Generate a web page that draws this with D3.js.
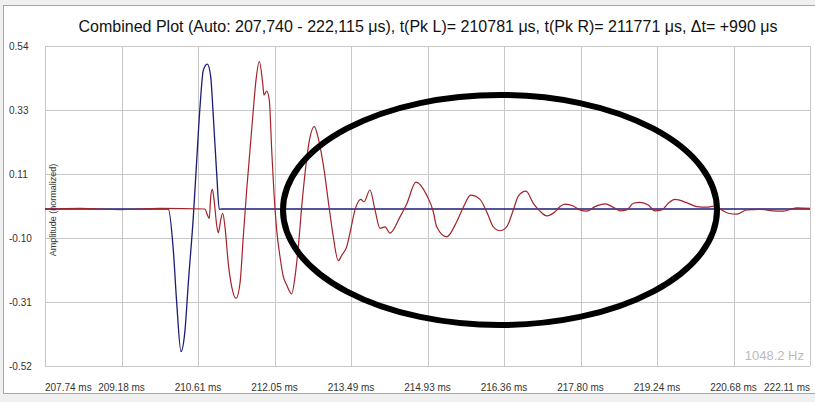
<!DOCTYPE html>
<meta charset="utf-8">
<style>
  body { margin: 0; background: #f0f0f0; }
  svg { display: block; font-family: "Liberation Sans", Arial, sans-serif; }
  .grid line { stroke: #c8c8c8; stroke-width: 1; shape-rendering: crispEdges; }
  .ylab, .xlab { font-size: 10px; fill: #333; }
</style>
<svg width="815" height="402"></svg>
<script src="https://cdnjs.cloudflare.com/ajax/libs/d3/7.8.5/d3.min.js"></script>
<script>

// time axis (ms) and labels
var tStart = 207.740, tEnd = 222.115;
var xTickLabels = ["207.74 ms", "209.18 ms", "210.61 ms", "212.05 ms", "213.49 ms", "214.93 ms",
                   "216.36 ms", "217.80 ms", "219.24 ms", "220.68 ms", "222.11 ms"];
var yMin = -0.52, yMax = 0.54;
var yTickLabels = ["0.54", "0.33", "0.11", "-0.10", "-0.31", "-0.52"];

// left channel (blue) - time ms / amplitude
var blueT = [207.740, 210.057, 210.151, 210.215, 210.296, 210.371, 210.433, 210.527, 210.591,
             210.653, 210.715, 210.790, 210.854, 210.903, 210.966, 211.015, 211.066, 222.115];
var blueA = [0, 0, -0.136, -0.311, -0.472, -0.401, -0.245, -0.026, 0.162,
             0.339, 0.460, 0.480, 0.438, 0.306, 0.118, -0.001, 0, 0];

// right channel (red)
var redT = [207.740, 208.398, 209.149, 209.901, 210.747, 210.779, 210.827, 210.854, 210.884, 210.921,
            210.966, 210.997, 211.042, 211.079, 211.122, 211.184, 211.248, 211.329, 211.404, 211.466,
            211.530, 211.592, 211.654, 211.705, 211.767, 211.831, 211.855, 211.906, 211.955, 212.000,
            212.043, 212.094, 212.156, 212.218, 212.282, 212.376, 212.438, 212.500, 212.564, 212.626,
            212.688, 212.800, 212.876, 212.970, 213.082, 213.152, 213.251, 213.321, 213.409, 213.490,
            213.565, 213.672, 213.734, 213.847, 213.941, 214.035, 214.129, 214.223, 214.411, 214.537,
            214.711, 214.912, 215.037, 215.100, 215.288, 215.476, 215.600, 215.739, 215.914, 216.040,
            216.164, 216.290, 216.416, 216.540, 216.634, 216.778, 216.916, 217.041, 217.167, 217.323,
            217.417, 217.511, 217.667, 217.793, 217.919, 218.075, 218.263, 218.419, 218.545, 218.671,
            218.795, 218.921, 219.077, 219.202, 219.328, 219.452, 219.578, 219.798, 219.986, 220.174,
            220.330, 220.456, 220.580, 220.738, 220.926, 221.175, 221.425, 221.613, 221.865, 222.115];
var redA = [0, 0.002, -0.002, 0.002, 0, -0.014, -0.031, 0.041, 0.065, 0.024,
            -0.053, -0.079, -0.036, -0.014, -0.059, -0.180, -0.257, -0.296, -0.246, -0.092,
            0.063, 0.195, 0.328, 0.427, 0.488, 0.416, 0.377, 0.391, 0.361, 0.195,
            0.052, -0.070, -0.158, -0.224, -0.252, -0.281, -0.224, -0.125, 0.008, 0.118,
            0.206, 0.273, 0.234, 0.146, 0.001, -0.086, -0.171, -0.152, -0.125, -0.063,
            -0.003, 0.032, 0.024, 0.063, -0.003, -0.064, -0.059, -0.080, -0.026, 0.017,
            0.089, 0.046, -0.009, -0.059, -0.092, -0.042, 0.006, 0.046, 0.032, -0.009,
            -0.059, -0.072, -0.059, -0.003, 0.043, 0.059, 0.019, -0.007, -0.023, -0.009,
            0.008, 0.016, 0.010, -0.003, -0.007, 0.008, 0.017, 0.006, -0.006, -0.003,
            0.019, 0.022, 0.013, -0.006, -0.003, 0.019, 0.032, 0.021, 0.008, 0.006,
            0.010, -0.003, -0.014, -0.017, -0.003, -0.001, -0.006, -0.007, 0.004, 0.002];

var title = "Combined Plot (Auto: 207,740 - 222,115 \u03bcs), t(Pk L)= 210781 \u03bcs, t(Pk R)= 211771 \u03bcs, \u0394t= +990 \u03bcs";

var svg = d3.select("svg");
// plot box (window.top is reserved, so use other names)
var plotL = 45, plotR = 810, plotT = 46, plotB = 366;

// panel
svg.append("rect").attr("x", 3.5).attr("y", 5.5).attr("width", 815).attr("height", 388)
    .attr("fill", "#fff").attr("stroke", "#a8a8a8");

var x = d3.scaleLinear().domain([tStart, tEnd]).range([plotL, plotR]);
var y = d3.scaleLinear().domain([yMin, yMax]).range([plotB, plotT]);

var xTicks = xTickLabels.map(function(d, i) { return tStart + i * (tEnd - tStart) / (xTickLabels.length - 1); });
var yTicks = yTickLabels.map(function(d, i) { return yMax - i * (yMax - yMin) / (yTickLabels.length - 1); });

var grid = svg.append("g").attr("class", "grid");
grid.selectAll(".gx").data(xTicks).enter().append("line")
    .attr("x1", function(d) { return Math.round(x(d)) + 0.5; })
    .attr("x2", function(d) { return Math.round(x(d)) + 0.5; })
    .attr("y1", plotT).attr("y2", plotB);
grid.selectAll(".gy").data(yTicks).enter().append("line")
    .attr("y1", function(d) { return Math.round(y(d)) + 0.5; })
    .attr("y2", function(d) { return Math.round(y(d)) + 0.5; })
    .attr("x1", plotL).attr("x2", plotR);

svg.selectAll(".ylab").data(yTicks).enter().append("text")
    .attr("class", "ylab")
    .attr("x", 9)
    .attr("y", function(d) { return y(d); })
    .attr("dy", "0.35em")
    .text(function(d, i) { return yTickLabels[i]; });

svg.selectAll(".xlab").data(xTicks).enter().append("text")
    .attr("class", "xlab")
    .attr("x", function(d) { return x(d); })
    .attr("y", 391)
    .attr("text-anchor", function(d, i) { return i == 0 ? "start" : (i == xTicks.length - 1 ? "end" : "middle"); })
    .text(function(d, i) { return xTickLabels[i]; });

svg.append("text")
    .attr("transform", "translate(56,210) rotate(-90)")
    .attr("text-anchor", "middle")
    .style("font-size", "9px").style("fill", "#333")
    .text("Amplitude (normalized)");

// monotone keeps the long flat stretches from bulging
var line = d3.line()
    .x(function(d) { return x(d[0]); })
    .y(function(d) { return y(d[1]); })
    .curve(d3.curveMonotoneX);

svg.append("path")
    .datum(d3.zip(blueT, blueA))
    .attr("d", line)
    .attr("fill", "none").attr("stroke", "#1c1c78").attr("stroke-width", 1.3);

svg.append("path")
    .datum(d3.zip(redT, redA))
    .attr("d", line)
    .attr("fill", "none").attr("stroke", "#a3232a").attr("stroke-width", 1.2);

svg.append("text")
    .attr("x", 804).attr("y", 360)
    .attr("text-anchor", "end")
    .style("font-size", "13px").style("fill", "#bbb")
    .text("1048.2 Hz");

// hand-drawn highlight ring
svg.append("ellipse")
    .attr("cx", 500).attr("cy", 210).attr("rx", 217).attr("ry", 115)
    .attr("fill", "none").attr("stroke", "#000").attr("stroke-width", 6);

svg.append("text")
    .attr("x", 428).attr("y", 32)
    .attr("text-anchor", "middle")
    .style("font-size", "16px").style("fill", "#111")
    .text(title);

</script>
